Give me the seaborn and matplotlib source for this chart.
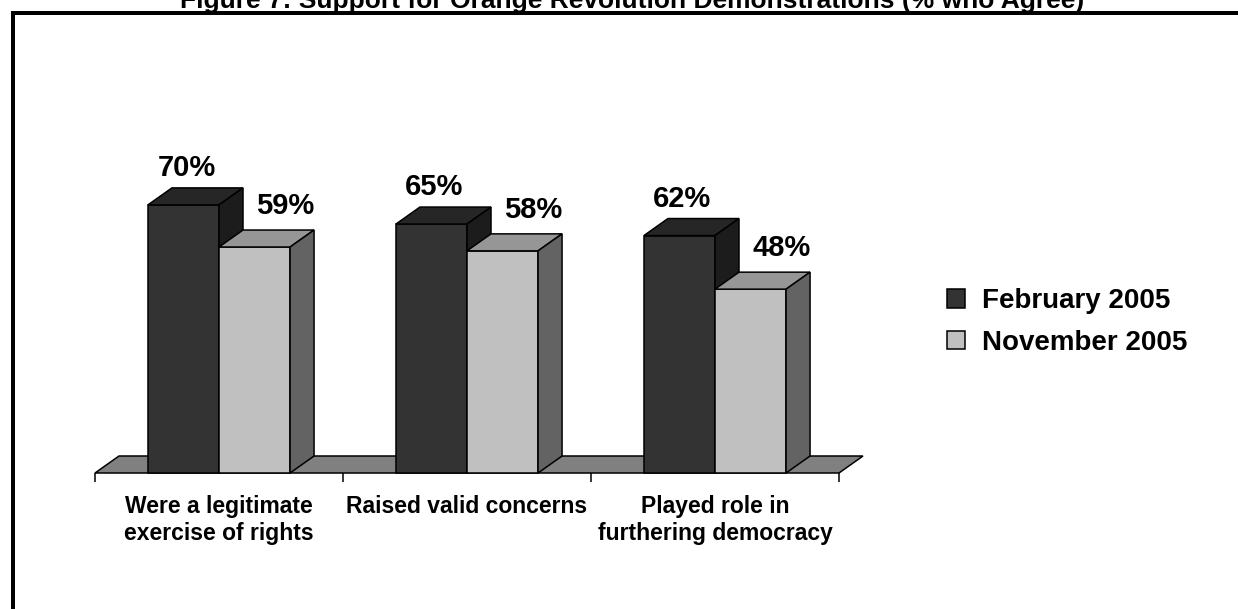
import matplotlib
matplotlib.use("Agg")
import matplotlib.pyplot as plt
import seaborn as sns
import pandas as pd
from matplotlib.patches import Polygon, Patch, Rectangle
from matplotlib.lines import Line2D

# ---- data -------------------------------------------------------------
statements = [
    "Were a legitimate\nexercise of rights",
    "Raised valid concerns",
    "Played role in\nfurthering democracy",
]
waves = ["February 2005", "November 2005"]
feb_2005 = [70, 65, 62]
nov_2005 = [59, 58, 48]
title = "Figure 7: Support for Orange Revolution Demonstrations (% who Agree)"

# ---- styling ----------------------------------------------------------
front_colors = {"February 2005": "#333333", "November 2005": "#c0c0c0"}
top_colors = {"February 2005": "#262626", "November 2005": "#969696"}
side_colors = {"February 2005": "#1c1c1c", "November 2005": "#636363"}
floor_color = "#808080"
edge_lw = 1.1

df = pd.DataFrame({
    "statement": statements * 2,
    "wave": [waves[0]] * len(statements) + [waves[1]] * len(statements),
    "agree": feb_2005 + nov_2005,
})

sns.set_theme(style="white")
plt.rcParams["font.family"] = ["Liberation Sans", "DejaVu Sans"]
plt.rcParams["font.weight"] = "bold"
plt.rcParams["text.color"] = "black"

W, H = 1238, 609
fig = plt.figure(figsize=(W / 100, H / 100), dpi=100)
fig.patch.set_facecolor("white")
ax = fig.add_axes([95 / W, (H - 473) / H, 744 / W, 383 / H])
ax.set_facecolor("none")

sns.barplot(
    data=df, x="statement", y="agree", hue="wave", order=statements,
    hue_order=waves, palette=front_colors, width=0.573, saturation=1,
    edgecolor="black", linewidth=edge_lw, legend=False, ax=ax,
)
ax.set_xlim(-0.5, 2.5)
ax.set_ylim(0, 100)

bars = sorted([p for p in ax.patches if isinstance(p, Rectangle)],
              key=lambda p: p.get_x())

# depth of the pseudo-3D extrusion: 24 px right, 17 px up
inv = ax.transData.inverted()
x0, y0 = inv.transform((0, 0))
x1, y1 = inv.transform((24, 17))
dx, dy = x1 - x0, y1 - y0

# floor plane under the bars
floor = Polygon([(-0.5, 0), (2.5, 0), (2.5 + dx, dy), (-0.5 + dx, dy)],
                closed=True, fc=floor_color, ec="black", lw=edge_lw,
                zorder=1, clip_on=False)
ax.add_patch(floor)

# add top and side faces to each bar, back-to-front within a group
n_stat = len(statements)
for i, bar in enumerate(bars):
    wave = waves[i % 2]
    x, w, h = bar.get_x(), bar.get_width(), bar.get_height()
    z = 3 + i
    bar.set_zorder(z)
    bar.set_clip_on(False)
    top = Polygon([(x, h), (x + w, h), (x + w + dx, h + dy), (x + dx, h + dy)],
                  closed=True, fc=top_colors[wave], ec="black", lw=edge_lw,
                  zorder=z + 0.5, clip_on=False)
    side = Polygon([(x + w, 0), (x + w + dx, dy), (x + w + dx, h + dy), (x + w, h)],
                   closed=True, fc=side_colors[wave], ec="black", lw=edge_lw,
                   zorder=z + 0.5, clip_on=False)
    ax.add_patch(top)
    ax.add_patch(side)
    # value label
    off = (3, 37) if wave == waves[0] else (31, 41)
    ax.annotate(f"{h:.0f}%", xy=(x + w / 2, h),
                xytext=(off[0] * 0.72, off[1] * 0.72), textcoords="offset points",
                ha="center", va="center", fontsize=21, fontweight="bold",
                color="black", zorder=20, annotation_clip=False)

# axes: category labels with boundary ticks
for s in ax.spines.values():
    s.set_visible(False)
ax.set_yticks([])
ax.set_xlabel("")
ax.set_ylabel("")
ax.set_xticks(range(n_stat))
ax.set_xticklabels(statements, fontsize=16.5, fontweight="bold", color="black")
ax.set_xticks([-0.5, 0.5, 1.5, 2.5], minor=True)
ax.tick_params(axis="x", which="major", length=0, pad=16)
ax.tick_params(axis="x", which="minor", bottom=True, length=6.5, width=edge_lw,
               color="black", direction="out")

# legend
handles = [Patch(facecolor=front_colors[w], edgecolor="black", linewidth=edge_lw)
           for w in waves]
fig.legend(handles, waves, loc="upper left",
           bbox_to_anchor=(947 / W, (H - 288) / H), frameon=False,
           handlelength=0.65, handleheight=0.65,
           handletextpad=0.61, labelspacing=0.56, borderpad=0,
           borderaxespad=0, labelcolor="black",
           prop={"weight": "bold", "size": 20})

# outer frame (top and left edges)
fig.add_artist(Line2D([13 / W, 13 / W], [0, (H - 13) / H], lw=4 * 0.72,
                      color="black", transform=fig.transFigure,
                      solid_capstyle="projecting"))
fig.add_artist(Line2D([13 / W, 1], [(H - 13) / H, (H - 13) / H], lw=4 * 0.72,
                      color="black", transform=fig.transFigure,
                      solid_capstyle="projecting"))

fig.text(632 / W, (H - 8) / H, title, ha="center", va="baseline",
         fontsize=19, fontweight="bold", color="black")

fig.savefig("out.png", dpi=100, facecolor="white")
